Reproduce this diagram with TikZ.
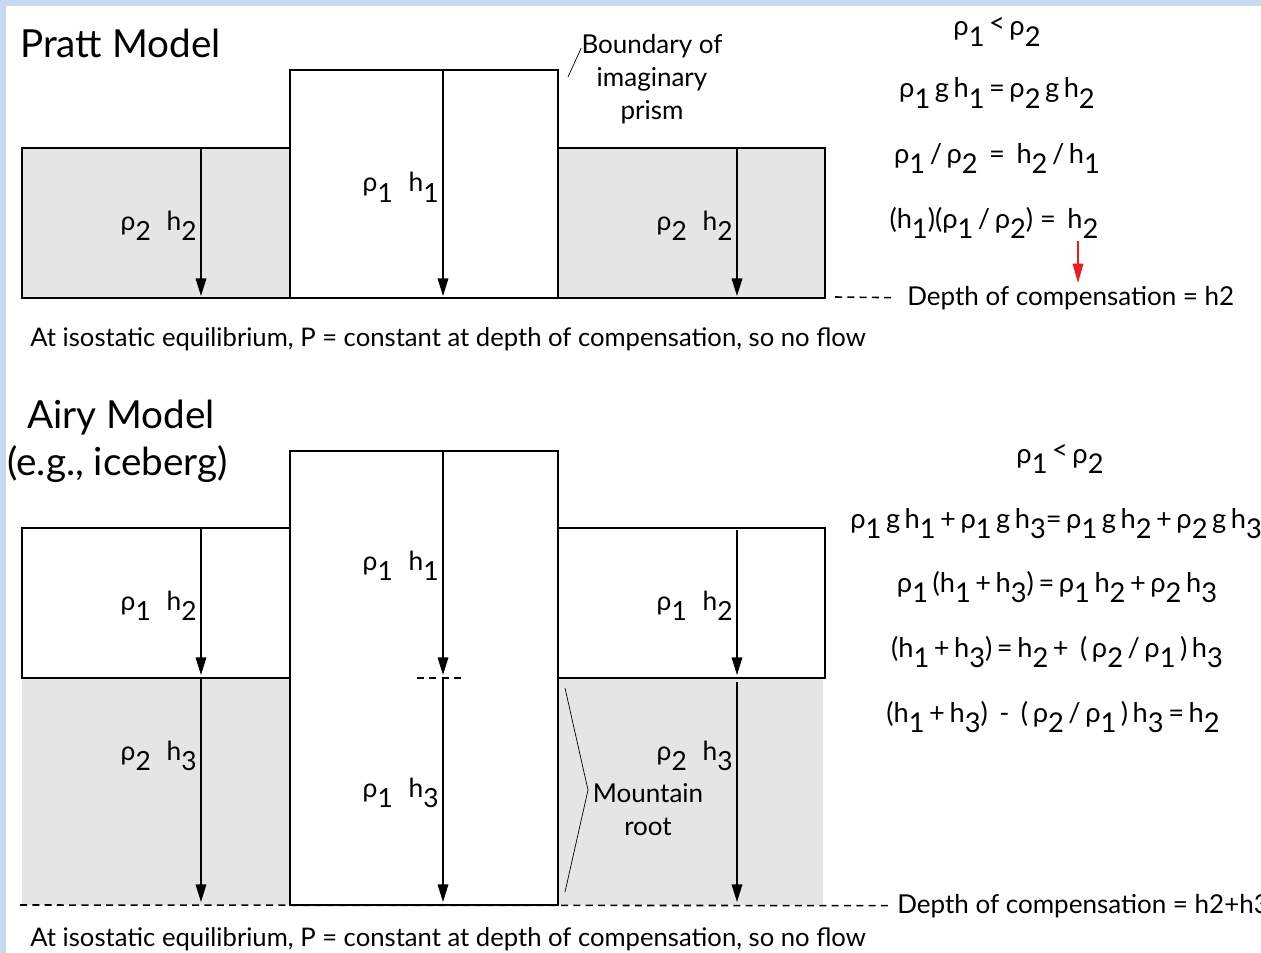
\documentclass[tikz,border=0pt]{standalone}
\usepackage{fontspec}
\setmainfont{Lato}
\usetikzlibrary{positioning,arrows.meta,calc}
\definecolor{frameblue}{RGB}{197,217,241}
\definecolor{mantle}{RGB}{229,229,229}
\definecolor{cue}{RGB}{237,28,36}
\newcommand{\lo}[1]{\raisebox{-0.75ex}{#1}}
\newcommand{\lt}{\raisebox{0.25ex}{<}}

\begin{document}
\begin{tikzpicture}[x=0.02cm, y=-0.02cm,
  title/.style={font=\fontsize{22}{26}\selectfont, anchor=base west, inner sep=0pt},
  lbl/.style={font=\fontsize{15}{18}\selectfont, anchor=base east, inner sep=0pt},
  eqn/.style={font=\fontsize{15.5}{18}\selectfont, anchor=base, inner sep=0pt},
  note/.style={font=\fontsize{14.8}{18.7}\selectfont, inner sep=0pt, align=center},
  depthlbl/.style={font=\fontsize{14.8}{17}\selectfont, anchor=base west, inner sep=0pt},
  caption/.style={font=\fontsize{14.6}{17}\selectfont, anchor=base west, inner sep=0pt},
  block/.style={draw, line width=1.1pt},
  depth/.style={line width=0.9pt, -{Triangle[length=10pt,width=6pt]}},
  cutline/.style={line width=0.9pt, dash pattern=on 4pt off 3pt},
  leader/.style={line width=0.4pt}]
  \useasboundingbox (0,0) rectangle (1261,953);
  \clip (0,0) rectangle (1261,953);
  \fill[frameblue] (0,0) rectangle (1261,953);
  \fill[white] (6,6) rectangle (1261,953);

  % Pratt model
  \node[title] (pratt) at (20,58) {Pratt Model};
  \draw[block, fill=mantle] (22,148) rectangle (290,298);
  \draw[block, fill=white] (290,70) rectangle (558,298);
  \draw[block, fill=mantle] (558,148) rectangle (825,298);
  \coordinate (pl-a) at (201,148); \coordinate (pl-b) at (201,296);
  \coordinate (pc-a) at (443,70);  \coordinate (pc-b) at (443,296);
  \coordinate (pr-a) at (737,148); \coordinate (pr-b) at (737,296);
  \draw[depth] (pl-a) -- (pl-b);
  \draw[depth] (pc-a) -- (pc-b);
  \draw[depth] (pr-a) -- (pr-b);
  \node[lbl] (pl-lab) at (197,230) {ρ\lo{2}\hspace{0.6em}h\lo{2}};
  \node[lbl] (pc-lab) at (439,192) {ρ\lo{1}\hspace{0.6em}h\lo{1}};
  \node[lbl] (pr-lab) at (733,230) {ρ\lo{2}\hspace{0.6em}h\lo{2}};
  \node[note] (prism) at (652,79) {Boundary of\\imaginary\\prism};
  \coordinate (pm-a) at (568,77);
  \draw[leader] (pm-a) -- ([yshift=-8pt]prism.north west);

  \node[eqn] (pe1) at (997,36) {ρ\lo{1}\,\lt\,ρ\lo{2}};
  \node[eqn] (pe2) at (997,98) {ρ\lo{1}\,g\,h\lo{1}\,=\,ρ\lo{2}\,g\,h\lo{2}};
  \node[eqn] (pe3) at (997,163) {ρ\lo{1}\,/\,ρ\lo{2}\, = \,h\lo{2}\,/\,h\lo{1}};
  \node[eqn] (pe4) at (994,228) {(h\lo{1})(ρ\lo{1}\,/\,ρ\lo{2}) = \,h\lo{2}};
  \coordinate (pe-a) at (1078,241); \coordinate (pe-b) at (1078,283);
  \draw[cue, line width=0.8pt, -{Triangle[length=11pt,width=6pt]}] (pe-a) -- (pe-b);

  \node[depthlbl] (pdepth) at (907,305) {Depth of compensation = h2};
  \coordinate (pd-a) at (835,297);
  \draw[cutline] (pd-a) -- ([xshift=-8pt]pdepth.west);
  \node[caption] (pcap) at (30,346) {At isostatic equilibrium, P = constant at depth of compensation, so no flow};

  % Airy model
  \node[title] (airy) at (27,428) {Airy Model};
  \node[title] (iceberg) at (7,475) {(e.g., iceberg)};
  \fill[mantle] (22,678) rectangle (290,905);
  \fill[mantle] (558,678) rectangle (823,905);
  \draw[block] (22,528) rectangle (290,678);
  \draw[block] (558,528) rectangle (825,678);
  \draw[block] (290,451) rectangle (558,905);
  \coordinate (al-a) at (201,528); \coordinate (al-b) at (201,675);
  \coordinate (al-c) at (201,678); \coordinate (al-d) at (201,902);
  \coordinate (ac-a) at (443,451); \coordinate (ac-b) at (443,675);
  \coordinate (ac-c) at (443,678); \coordinate (ac-d) at (443,902);
  \coordinate (ar-a) at (737,530); \coordinate (ar-b) at (737,675);
  \coordinate (ar-c) at (737,682); \coordinate (ar-d) at (737,902);
  \draw[depth] (al-a) -- (al-b);
  \draw[depth] (al-c) -- (al-d);
  \draw[depth] (ac-a) -- (ac-b);
  \draw[depth] (ac-c) -- (ac-d);
  \draw[depth] (ar-a) -- (ar-b);
  \draw[depth] (ar-c) -- (ar-d);
  \coordinate (ac-l) at (417,678); \coordinate (ac-r) at (465,678);
  \draw[cutline] (ac-l) -- (ac-r);
  \node[lbl] (al-top) at (197,610) {ρ\lo{1}\hspace{0.6em}h\lo{2}};
  \node[lbl] (al-bot) at (197,760) {ρ\lo{2}\hspace{0.6em}h\lo{3}};
  \node[lbl] (ac-top) at (439,570) {ρ\lo{1}\hspace{0.6em}h\lo{1}};
  \node[lbl] (ac-bot) at (439,797) {ρ\lo{1}\hspace{0.6em}h\lo{3}};
  \node[lbl] (ar-top) at (733,610) {ρ\lo{1}\hspace{0.6em}h\lo{2}};
  \node[lbl] (ar-bot) at (733,760) {ρ\lo{2}\hspace{0.6em}h\lo{3}};
  \node[note] (root) at (648,810) {Mountain\\root};
  \coordinate (rt-a) at (565,688); \coordinate (rt-b) at (588,790); \coordinate (rt-c) at (565,892);
  \draw[leader] (rt-a) -- (rt-b) -- (rt-c);

  \node[eqn] (ae1) at (1060,463) {ρ\lo{1}\,\lt\,ρ\lo{2}};
  \node[eqn, anchor=base west] (ae2) at (850,528) {ρ\lo{1}\,g\,h\lo{1}\,+\,ρ\lo{1}\,g\,h\lo{3}=\,ρ\lo{1}\,g\,h\lo{2}\,+\,ρ\lo{2}\,g\,h\lo{3}};
  \node[eqn] (ae3) at (1057,592) {ρ\lo{1}\,(h\lo{1}\,+\,h\lo{3})\,=\,ρ\lo{1}\,h\lo{2}\,+\,ρ\lo{2}\,h\lo{3}};
  \node[eqn] (ae4) at (1057,657) {(h\lo{1}\,+\,h\lo{3})\,=\,h\lo{2}\,+\, (\,ρ\lo{2}\,/\,ρ\lo{1}\,)\,h\lo{3}};
  \node[eqn] (ae5) at (1053,722) {(h\lo{1}\,+\,h\lo{3})\, -\, (\,ρ\lo{2}\,/\,ρ\lo{1}\,)\,h\lo{3}\,=\,h\lo{2}};

  \node[depthlbl] (adepth) at (897,913) {Depth of compensation = h2+h3};
  \coordinate (ad-a) at (20,905);
  \draw[cutline] (ad-a) -- ([xshift=-3pt]adepth.west);
  \node[caption] (acap) at (30,946) {At isostatic equilibrium, P = constant at depth of compensation, so no flow};
\end{tikzpicture}
\end{document}
